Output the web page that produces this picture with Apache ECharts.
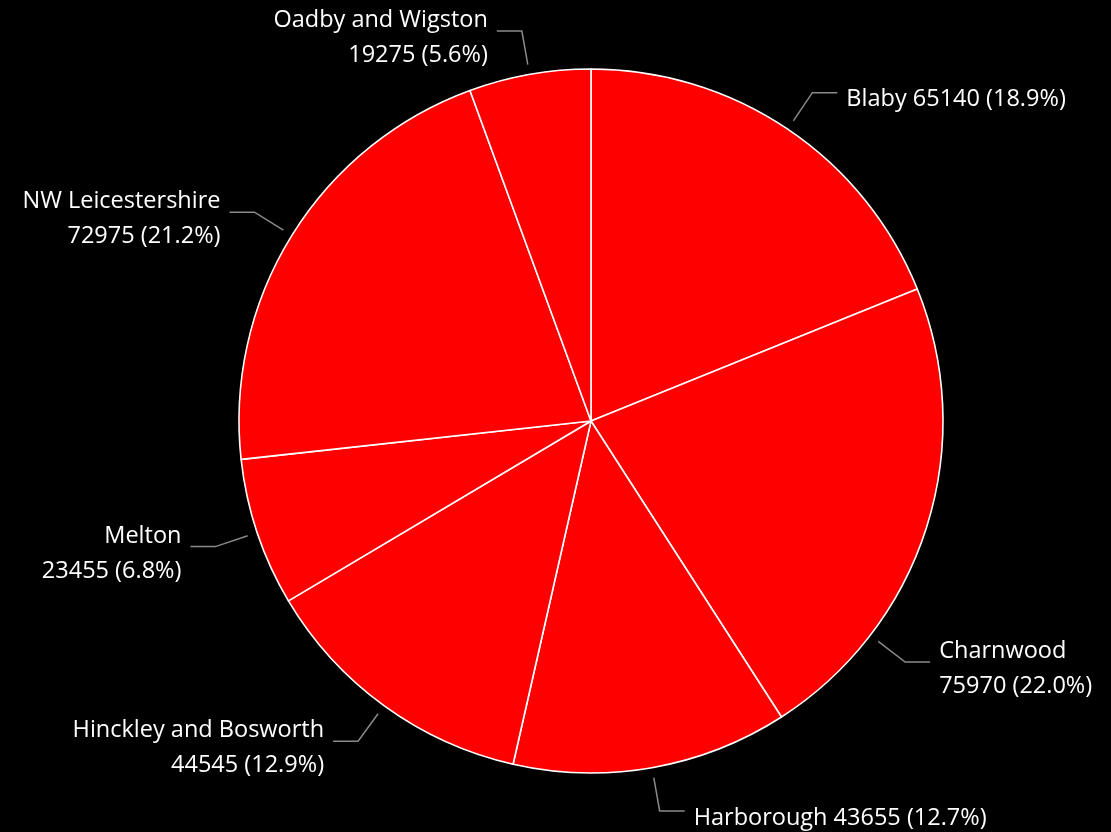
<!DOCTYPE html>
<html><head><meta charset="utf-8">
<script src="https://cdn.jsdelivr.net/npm/echarts@6/dist/echarts.min.js"></script>
<style>html,body{margin:0;padding:0;background:#000;}#c{width:1111px;height:832px;}</style>
</head><body><div id="c"></div>
<script>
const categories = ["Blaby","Charnwood","Harborough","Hinckley and Bosworth","Melton","NW Leicestershire","Oadby and Wigston"];
const values = [65140,75970,43655,44545,23455,72975,19275];
const singleLine = ["Blaby","Harborough"];

const CX = 591, CY = 421, R = 352;
const total = values.reduce((a, b) => a + b, 0);
// mid angles (degrees clockwise from top)
const midAngles = [];
{ let acc = 0; values.forEach(v => { midAngles.push((acc + v / 2) / total * 360); acc += v; }); }
// the Charnwood label sits lower than its mid angle in the reference
const anchorAngle = midAngles.map((a, i) => categories[i] === 'Charnwood' ? 127.5 : a);

const chart = echarts.init(document.getElementById('c'));
chart.setOption({
  backgroundColor: '#000',
  animation: false,
  series: [{
    type: 'pie',
    center: [CX, CY],
    radius: [0, R],
    startAngle: 90,
    clockwise: true,
    data: categories.map((n, i) => ({name: n, value: values[i]})),
    itemStyle: {color: '#ff0000', borderColor: '#fff', borderWidth: 1.6},
    label: {
      color: '#fff',
      fontFamily: 'Open Sans',
      fontSize: 23.5,
      lineHeight: 35,
      overflow: 'none',
      formatter: p => {
        const d = (p.value / total * 100).toFixed(1);
        return singleLine.includes(p.name) ? `${p.name} ${p.value} (${d}%)` : `${p.name}\n${p.value} (${d}%)`;
      }
    },
    labelLine: {show: true, length: 34, length2: 25, lineStyle: {color: '#8a8a8a', width: 1.5}},
    labelLayout: params => {
      const a = anchorAngle[params.dataIndex] * Math.PI / 180;
      const ux = Math.sin(a), uy = -Math.cos(a);
      const p0 = [CX + (R + 10) * ux, CY + (R + 10) * uy];
      const p1 = [CX + (R + 44) * ux, CY + (R + 44) * uy];
      const right = ux >= 0;
      const p2 = [p1[0] + (right ? 25 : -25), p1[1]];
      return {
        x: p2[0] + (right ? 9 : -9),
        y: p2[1] + 7,
        align: right ? 'left' : 'right',
        verticalAlign: 'middle',
        labelLinePoints: [p0, p1, p2],
        hideOverlap: false
      };
    },
    emphasis: {disabled: true}
  }]
});
</script></body></html>
